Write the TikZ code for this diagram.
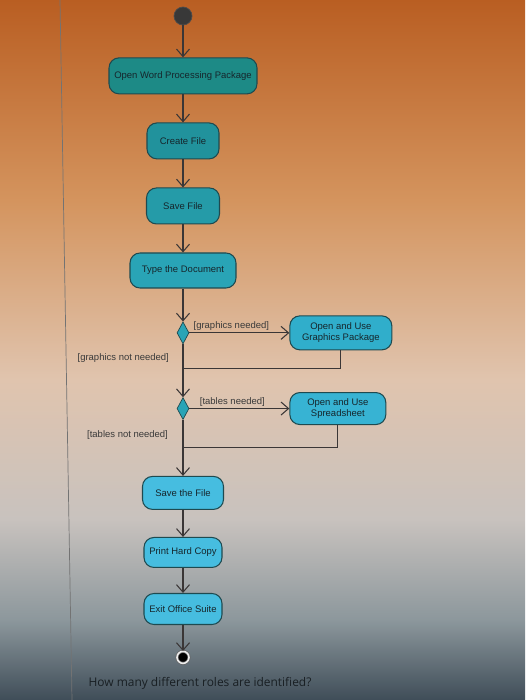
\documentclass[tikz,border=0pt]{standalone}
\usepackage{fontspec}
\setmainfont{Liberation Sans}
\newfontfamily\questionfont{Open Sans}
\usepackage{xcolor}
\usetikzlibrary{arrows.meta,positioning,shapes.geometric}

\definecolor{bgA}{HTML}{B95E22}
\definecolor{bgB}{HTML}{D4945E}
\definecolor{bgC}{HTML}{E0C4AE}
\definecolor{bgD}{HTML}{C8C2BE}
\definecolor{bgE}{HTML}{8C979C}
\definecolor{bgF}{HTML}{3F4D58}
\definecolor{linegray}{HTML}{3A3636}
\definecolor{boxline}{HTML}{1E4A50}
\definecolor{boxtext}{HTML}{16262C}
\definecolor{guardtext}{HTML}{3A3A3A}
\definecolor{tealA}{HTML}{1D8A86}
\definecolor{tealB}{HTML}{21929C}
\definecolor{tealC}{HTML}{259BA8}
\definecolor{tealD}{HTML}{29A4B6}
\definecolor{cyanA}{HTML}{30AECB}
\definecolor{cyanB}{HTML}{37B3D3}
\definecolor{cyanC}{HTML}{46BDE0}
\pgfdeclareverticalshading{screenbg}{100bp}{color(0bp)=(bgF); color(25bp)=(bgF);
  color(30.7bp)=(bgE); color(37.9bp)=(bgD); color(47.9bp)=(bgC);
  color(60.7bp)=(bgB); color(75bp)=(bgA); color(100bp)=(bgA)}

\begin{document}
\begin{tikzpicture}[
    x=0.02cm, y=-0.02cm,
    >={Straight Barb[length=1.5mm,width=2.6mm]},
    font=\fontsize{5.4}{6.4}\selectfont,
    activity/.style={draw=boxline, rounded corners=0.2cm, align=center,
      minimum height=0.72cm, text=boxtext, line width=0.6pt, inner xsep=2pt},
    decision/.style={diamond, draw=boxline, fill=tealD, minimum width=0.24cm,
      minimum height=0.44cm, inner sep=0pt},
    startnode/.style={circle, draw=black!70, fill=black!78, minimum size=0.36cm,
      inner sep=0pt},
    endnode/.style={circle, draw=black!60, fill=black, minimum size=0.24cm,
      inner sep=0pt, double=white!85!gray, double distance=0.9pt},
    guard/.style={text=guardtext, inner sep=1pt},
    flow/.style={->, draw=linegray, semithick},
    back/.style={draw=linegray, semithick}
  ]
  \useasboundingbox (0,0) rectangle (525,700);
  \shade[shading=screenbg] (0,0) rectangle (525,700);
  \draw[black!55, thin] (60,0) -- (72,700);

  \node[startnode] (start) at (183,16) {};
  \node[activity, fill=tealA, minimum width=2.96cm, below=0.64cm of start]
    (openwp) {Open Word Processing Package};
  \node[activity, fill=tealB, minimum width=1.44cm, below=0.56cm of openwp]
    (create) {Create File};
  \node[activity, fill=tealC, minimum width=1.46cm, below=0.56cm of create]
    (savefile) {Save File};
  \node[activity, fill=tealD, minimum width=2.12cm, minimum height=0.7cm,
    below=0.56cm of savefile] (typedoc) {Type the Document};
  \node[decision, below=0.66cm of typedoc] (dec1) {};
  \node[activity, fill=cyanA, minimum width=2.04cm, minimum height=0.68cm,
    right=2cm of dec1] (graphics) {Open and Use\\Graphics Package};
  \coordinate[below=0.36cm of graphics.south] (gturn);
  \coordinate (gjoin) at (dec1 |- gturn);
  \node[decision, below=1.06cm of dec1] (dec2) {};
  \node[activity, fill=cyanB, minimum width=1.92cm, minimum height=0.64cm,
    right=2cm of dec2] (spread) {Open and Use\\Spreadsheet};
  \coordinate[below=0.44cm of spread.south] (sturn);
  \coordinate (sjoin) at (dec2 |- sturn);
  \node[activity, fill=cyanC, minimum width=1.62cm, minimum height=0.66cm,
    below=1.12cm of dec2] (savethe) {Save the File};
  \node[activity, fill=cyanC, minimum width=1.56cm, minimum height=0.6cm,
    below=0.54cm of savethe] (print) {Print Hard Copy};
  \node[activity, fill=cyanC, minimum width=1.56cm, minimum height=0.62cm,
    below=0.5cm of print] (exit) {Exit Office Suite};
  \node[endnode, below=0.52cm of exit] (finish) {};

  \node[guard, anchor=east] (gno) at ([xshift=-0.24cm, yshift=-0.28cm]dec1.south)
    {[graphics not needed]};
  \node[guard, anchor=east] (tno) at ([xshift=-0.26cm, yshift=-0.3cm]dec2.south)
    {[tables not needed]};

  \draw[flow] (start) -- (openwp);
  \draw[flow] (openwp) -- (create);
  \draw[flow] (create) -- (savefile);
  \draw[flow] (savefile) -- (typedoc);
  \draw[flow] (typedoc) -- (dec1);
  \draw[flow] (dec1) -- node[guard, above, pos=0.42] (gyes) {[graphics needed]}
    (graphics);
  \draw[back] (graphics.south) -- (gturn) -- (gjoin);
  \draw[flow] (dec1) -- (dec2);
  \draw[flow] (dec2) -- node[guard, above, pos=0.43] (tyes) {[tables needed]}
    (spread);
  \draw[back] (spread.south) -- (sturn) -- (sjoin);
  \draw[flow] (dec2) -- (savethe);
  \draw[flow] (savethe) -- (print);
  \draw[flow] (print) -- (exit);
  \draw[flow] (exit) -- (finish);

  \node[text=black!60!bgF, font=\questionfont\fontsize{6.8}{8}\selectfont]
    (question) at (200,683) {How many different roles are identified?};
\end{tikzpicture}
\end{document}
